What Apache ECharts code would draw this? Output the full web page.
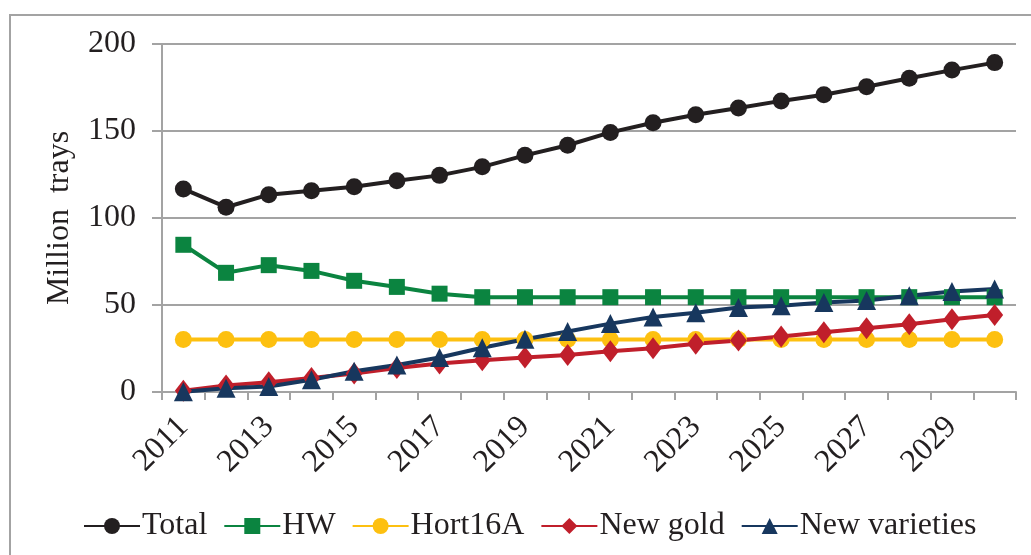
<!DOCTYPE html>
<html>
<head>
<meta charset="utf-8">
<script src="https://cdn.jsdelivr.net/npm/echarts@6/dist/echarts.min.js"></script>
<style>
  html, body { margin: 0; padding: 0; background: #fff; }
  #chart { width: 1031px; height: 555px; }
</style>
</head>
<body>
<div id="chart"></div>
<script>
// years on the x axis
var years = ['2011', '2012', '2013', '2014', '2015', '2016', '2017', '2018', '2019', '2020',
  '2021', '2022', '2023', '2024', '2025', '2026', '2027', '2028', '2029', '2030'];
// million trays
var total = [116.7, 106.2, 113.4, 115.7, 117.9, 121.4, 124.5, 129.4, 136.0, 141.8,
  149.2, 154.7, 159.3, 163.2, 167.3, 170.8, 175.4, 180.3, 185.0, 189.3];
var hw = [84.6, 68.5, 72.9, 69.6, 63.9, 60.4, 56.5, 54.5, 54.5, 54.5,
  54.5, 54.5, 54.5, 54.5, 54.5, 54.5, 54.5, 54.5, 54.5, 54.5];
var hort16a = [30.2, 30.2, 30.2, 30.2, 30.2, 30.2, 30.2, 30.2, 30.2, 30.2,
  30.2, 30.2, 30.2, 30.2, 30.2, 30.2, 30.2, 30.2, 30.2, 30.2];
var newGold = [0.7, 3.7, 5.6, 8.0, 10.6, 13.8, 16.4, 18.2, 19.8, 21.3,
  23.4, 25.1, 27.7, 29.6, 31.9, 34.3, 36.6, 38.9, 41.8, 44.3];
var newVarieties = [0.2, 2.2, 3.2, 7.0, 11.9, 15.5, 19.8, 25.4, 30.3, 34.8,
  39.3, 43.1, 45.6, 48.5, 49.6, 51.4, 52.6, 55.3, 57.8, 59.2];
var yTicks = [0, 50, 100, 150, 200];

var FONT = '"Liberation Serif", "Times New Roman", serif';
var TEXT = '#231f20';

function lineSeries(name, data, color, symbol, size) {
  return {
    name: name,
    type: 'line',
    data: data,
    symbol: symbol,
    symbolSize: size,
    showSymbol: true,
    lineStyle: { color: color, width: 4 },
    itemStyle: { color: color },
    emphasis: { disabled: true },
    animation: false
  };
}

var chart = echarts.init(document.getElementById('chart'));
var option = {
  animation: false,
  textStyle: { fontFamily: FONT, color: TEXT },
  graphic: [{
    type: 'rect',
    shape: { x: 10, y: 15, width: 1040, height: 560 },
    style: { fill: 'none', stroke: '#a3a3a3', lineWidth: 2 },
    silent: true
  }],
  grid: { left: 162, right: 15, top: 44, bottom: 163 },
  legend: {
    bottom: 8,
    left: 78,
    itemWidth: 56,
    itemHeight: 20,
    itemGap: 16,
    textStyle: { fontFamily: FONT, fontSize: 32, color: TEXT, padding: [0, 0, 0, -3] },
    data: ['Total', 'HW', 'Hort16A', 'New gold', 'New varieties']
  },
  xAxis: {
    type: 'category',
    data: years,
    boundaryGap: true,
    axisLine: { lineStyle: { color: '#a3a3a3', width: 2 } },
    axisTick: { show: true, interval: 0, length: 8, lineStyle: { color: '#a3a3a3', width: 2 } },
    axisLabel: {
      interval: 1,
      rotate: 45,
      margin: 30,
      fontFamily: FONT,
      fontSize: 32,
      color: TEXT
    },
    splitLine: { show: false }
  },
  yAxis: {
    type: 'value',
    min: yTicks[0],
    max: yTicks[yTicks.length - 1],
    interval: 50,
    name: 'Million  trays',
    nameLocation: 'middle',
    nameGap: 86,
    nameTextStyle: { fontFamily: FONT, fontSize: 32, color: TEXT },
    axisLine: { show: true, lineStyle: { color: '#a3a3a3', width: 2 } },
    axisTick: { show: true, length: 10, lineStyle: { color: '#a3a3a3', width: 2 } },
    axisLabel: { margin: 26, fontFamily: FONT, fontSize: 32, color: TEXT },
    splitLine: { show: true, lineStyle: { color: '#a3a3a3', width: 2 } }
  },
  series: [
    lineSeries('Total', total, '#231f20', 'circle', 17),
    lineSeries('HW', hw, '#0b8440', 'rect', 16),
    lineSeries('Hort16A', hort16a, '#fdc010', 'circle', 17),
    lineSeries('New gold', newGold, '#c01f2b', 'diamond', [17, 22]),
    lineSeries('New varieties', newVarieties, '#17375e', 'triangle', 19)
  ]
};
chart.setOption(option);
</script>
</body>
</html>
